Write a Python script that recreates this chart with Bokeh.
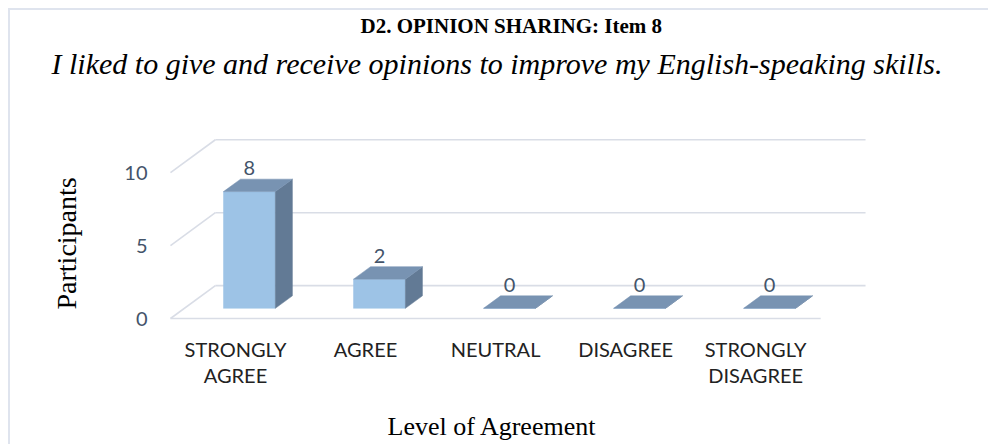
import numpy as np
from bokeh.plotting import figure
from bokeh.models import ColumnDataSource, FixedTicker, Range1d, Title
from bokeh.core.properties import value
from bokeh.embed import file_html
from bokeh.resources import INLINE

# ---------------- data ----------------
categories = ["STRONGLY\nAGREE", "AGREE", "NEUTRAL", "DISAGREE", "STRONGLY\nDISAGREE"]
participants = [8, 2, 0, 0, 0]
y_ticks = [0, 5, 10]

title_text = "D2. OPINION SHARING: Item 8"
subtitle_text = "I liked to give and receive opinions to improve my English-speaking skills."
x_title = "Level of Agreement"
y_title = "Participants"

# ---------------- style / projection constants ----------------
PX_X = 130.4          # pixels per category
PX_Y = 14.65          # pixels per participant
DEPTH_X = 45 / PX_X   # 3D depth offset (x, data units)
DEPTH_Y = 33 / PX_Y   # 3D depth offset (y, data units)
D0, D1 = 0.31, 0.69   # bar depth span (fraction of floor depth)
BAR_W = 52 / PX_X

FRONT_C = "#9dc3e6"
TOP_C = "#7893b2"
SIDE_C = "#627a95"
GRID_C = "#d9dde6"
LABEL_C = "#44546a"
SERIF = "Liberation Serif"
SANS = "Lato"

W, H = 980, 436
FL, FR, FT, FB = 156, 870, 74, 312    # frame edges in canvas px

n = len(categories)
idx = list(range(n))

x0 = -0.5 - 2 / PX_X
x_range = Range1d(x0, x0 + (FR - FL) / PX_X)
y0 = -3 / PX_Y
y_range = Range1d(y0, y0 + (FB - FT) / PX_Y)

p = figure(width=W, height=H, x_range=x_range, y_range=y_range,
           output_backend="svg", toolbar_location=None, title=None,
           min_border_left=FL, min_border_right=W - FR,
           min_border_top=FT, min_border_bottom=H - FB,
           background_fill_color="white", border_fill_color="white",
           styles={"margin-top": "8px", "margin-left": "8px",
                   "border-top": "2px solid #dfe4ee",
                   "border-left": "2px solid #dfe4ee"})
p.outline_line_color = None
p.xgrid.visible = False
p.ygrid.visible = False

# ---------------- walls / gridlines ----------------
left_edge, right_edge = idx[0] - 0.5, idx[-1] + 0.5
grid_xs, grid_ys = [], []
for t in y_ticks:
    grid_xs.append([left_edge + DEPTH_X, right_edge + DEPTH_X])   # back wall
    grid_ys.append([t + DEPTH_Y, t + DEPTH_Y])
    grid_xs.append([left_edge, left_edge + DEPTH_X])               # side wall
    grid_ys.append([t, t + DEPTH_Y])
grid_xs.append([left_edge, right_edge])                            # floor front edge
grid_ys.append([0, 0])
p.multi_line(grid_xs, grid_ys, line_color=GRID_C, line_width=1.6)

# ---------------- 3D bars ----------------
fx, fy, tx, ty, sx, sy = [], [], [], [], [], []
ox0, oy0 = D0 * DEPTH_X, D0 * DEPTH_Y
ox1, oy1 = D1 * DEPTH_X, D1 * DEPTH_Y
for i, v in zip(idx, participants):
    xl, xr = i - BAR_W / 2, i + BAR_W / 2
    fx.append([xl + ox0, xr + ox0, xr + ox0, xl + ox0])
    fy.append([oy0, oy0, v + oy0, v + oy0])
    sx.append([xr + ox0, xr + ox1, xr + ox1, xr + ox0])
    sy.append([oy0, oy1, v + oy1, v + oy0])
    tx.append([xl + ox0, xr + ox0, xr + ox1, xl + ox1])
    ty.append([v + oy0, v + oy0, v + oy1, v + oy1])

p.patches(fx, fy, fill_color=FRONT_C, line_color=FRONT_C, line_width=0.5)
p.patches(sx, sy, fill_color=SIDE_C, line_color=SIDE_C, line_width=0.5)
p.patches(tx, ty, fill_color=TOP_C, line_color=TOP_C, line_width=0.5)

# data labels
lab_src = ColumnDataSource(dict(
    x=[i + ox0 for i in idx],
    y=[v + oy1 for v in participants],
    t=[str(v) for v in participants]))
p.text(x="x", y="y", text="t", source=lab_src, text_align="center",
       text_baseline="alphabetic", y_offset=-11,
       text_font=value(SANS), text_font_size="20px", text_color=LABEL_C)

# ---------------- axes ----------------
p.yaxis.ticker = FixedTicker(ticks=y_ticks)
p.yaxis.axis_line_color = None
p.yaxis.major_tick_line_color = None
p.yaxis.minor_tick_line_color = None
p.yaxis.major_label_standoff = 15
p.yaxis.major_label_text_font = SANS
p.yaxis.major_label_text_font_size = "20px"
p.yaxis.major_label_text_color = LABEL_C

p.xaxis.ticker = FixedTicker(ticks=idx)
p.xaxis.major_label_overrides = {i: c for i, c in zip(idx, categories)}
p.xaxis.axis_line_color = None
p.xaxis.major_tick_line_color = None
p.xaxis.minor_tick_line_color = None
p.xaxis.major_label_standoff = 9
p.xaxis.major_label_text_font = SANS
p.xaxis.major_label_text_font_size = "20px"
p.xaxis.major_label_text_color = "#222222"
p.xaxis.major_label_text_line_height = 1.1

# axis titles (as side titles so they can be placed precisely)
p.add_layout(Title(text=y_title, align="left", offset=12,
                   text_font=SERIF, text_font_size="28px", text_font_style="normal",
                   text_color="black", standoff=78, vertical_align="middle"), "left")
p.add_layout(Title(text=" ", text_font_size="8px", standoff=3), "below")
p.add_layout(Title(text=x_title, align="left", offset=219,
                   text_font=SERIF, text_font_size="26px", text_font_style="normal",
                   text_color="black", standoff=12, vertical_align="bottom"), "below")

# titles
p.add_layout(Title(text=subtitle_text, align="left", offset=-117,
                   text_font=SERIF, text_font_style="italic",
                   text_font_size="30px", text_color="black",
                   standoff=10, vertical_align="bottom"), "above")
p.add_layout(Title(text=title_text, align="left", offset=192,
                   text_font=SERIF, text_font_style="bold",
                   text_font_size="21px", text_color="black",
                   standoff=1, vertical_align="middle"), "above")

open("out.html", "w").write(file_html(p, INLINE))
